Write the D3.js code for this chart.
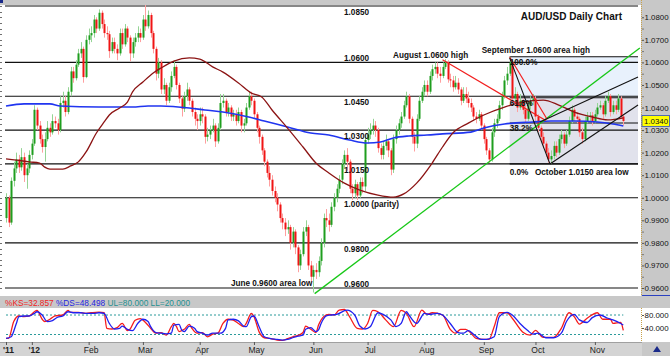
<!DOCTYPE html>
<html><head><meta charset="utf-8">
<script src="https://cdn.jsdelivr.net/npm/d3@7"></script>
<style>html,body{margin:0;padding:0;background:#fff;}svg{display:block;font-family:"Liberation Sans",Arial,sans-serif;}</style>
</head><body><svg id="c" width="670" height="356"></svg>
<script>
// ---------- DATA ----------
const startDate = "2011-12-19";
const firstOpen = 0.991;
const closes = [
1.000,0.989,1.0075,1.013,1.017,1.0135,1.018,1.010,1.013,1.019,
1.024,1.039,1.032,1.026,1.0225,1.026,1.031,1.029,1.034,1.033,
1.030,1.042,1.043,1.038,1.047,1.056,1.053,1.059,1.064,1.066,
1.0535,1.070,1.072,1.073,1.079,1.075,1.082,1.077,1.073,1.0725,
1.065,1.069,1.066,1.064,1.073,1.068,1.075,1.071,1.064,1.069,
1.071,1.073,1.071,1.079,1.076,1.081,1.073,1.066,1.055,1.060,
1.048,1.050,1.043,1.049,1.054,1.058,1.050,1.044,1.0395,1.045,
1.048,1.043,1.038,1.035,1.034,1.037,1.036,1.027,1.028,1.030,
1.032,1.025,1.031,1.042,1.043,1.038,1.040,1.036,1.037,1.034,
1.038,1.032,1.033,1.040,1.045,1.043,1.037,1.031,1.027,1.021,
1.016,1.011,1.008,1.003,1.000,0.997,0.991,0.989,0.986,0.987,
0.980,0.985,0.978,0.970,0.975,0.985,0.987,0.970,0.965,0.968,
0.967,0.972,0.980,0.991,0.990,0.988,0.996,1.000,1.004,1.008,
1.015,1.019,1.016,1.004,1.002,1.006,1.001,1.007,1.005,1.0256,
1.028,1.030,1.032,1.030,1.022,1.019,1.023,1.025,1.021,1.0125,
1.026,1.030,1.033,1.036,1.041,1.045,1.035,1.027,1.024,1.035,
1.043,1.047,1.050,1.047,1.054,1.057,1.058,1.055,1.054,1.058,
1.060,1.0525,1.052,1.049,1.051,1.048,1.043,1.046,1.044,1.042,
1.040,1.036,1.035,1.037,1.032,1.026,1.021,1.017,1.029,1.033,
1.035,1.041,1.045,1.052,1.055,1.060,1.044,1.046,1.040,1.043,
1.039,1.035,1.041,1.043,1.044,1.036,1.031,1.027,1.024,1.020,
1.017,1.0185,1.023,1.020,1.026,1.028,1.024,1.028,1.034,1.039,
1.036,1.035,1.029,1.026,1.034,1.036,1.0365,1.034,1.037,1.040,
1.041,1.037,1.043,1.045,1.038,1.041,1.039,1.044,1.036,1.034];
const highs = [
1.002,1.001,1.009,1.016,1.020,1.019,1.022,1.020,1.015,1.021,
1.026,1.041,1.040,1.034,1.028,1.029,1.034,1.033,1.037,1.036,
1.035,1.045,1.047,1.045,1.049,1.058,1.058,1.061,1.066,1.069,
1.067,1.072,1.075,1.076,1.081,1.080,1.0835,1.083,1.079,1.076,
1.074,1.071,1.071,1.068,1.075,1.075,1.077,1.076,1.072,1.071,
1.073,1.076,1.075,1.081,1.0856,1.083,1.082,1.074,1.067,1.062,
1.061,1.053,1.051,1.051,1.056,1.061,1.059,1.051,1.045,1.047,
1.051,1.049,1.044,1.040,1.037,1.040,1.040,1.037,1.031,1.032,
1.035,1.033,1.033,1.046,1.046,1.044,1.042,1.041,1.039,1.039,
1.040,1.039,1.035,1.042,1.047,1.047,1.044,1.038,1.032,1.028,
1.022,1.017,1.014,1.010,1.005,1.002,0.998,0.993,0.991,0.990,
0.988,0.987,0.986,0.979,0.977,0.987,0.990,0.988,0.972,0.970,
0.971,0.974,0.982,0.993,0.995,0.993,0.998,1.002,1.006,1.010,
1.017,1.021,1.022,1.017,1.006,1.008,1.007,1.009,1.009,1.027,
1.031,1.033,1.035,1.034,1.031,1.024,1.025,1.028,1.026,1.022,
1.028,1.032,1.035,1.038,1.043,1.047,1.046,1.036,1.029,1.037,
1.045,1.049,1.052,1.052,1.056,1.059,1.060,1.060,1.058,1.060,
1.0615,1.061,1.055,1.054,1.054,1.053,1.049,1.049,1.049,1.047,
1.044,1.041,1.038,1.039,1.038,1.033,1.027,1.022,1.031,1.035,
1.037,1.043,1.047,1.054,1.058,1.0625,1.061,1.049,1.047,1.046,
1.044,1.041,1.043,1.045,1.046,1.045,1.037,1.032,1.029,1.025,
1.022,1.021,1.025,1.025,1.028,1.030,1.029,1.030,1.036,1.041,
1.040,1.038,1.036,1.031,1.036,1.038,1.038,1.038,1.039,1.042,
1.043,1.042,1.045,1.047,1.046,1.043,1.043,1.046,1.045,1.037];
const lows = [
0.989,0.987,0.988,1.005,1.011,1.011,1.012,1.007,1.004,1.011,
1.017,1.023,1.030,1.024,1.020,1.016,1.025,1.027,1.028,1.031,
1.028,1.029,1.040,1.036,1.037,1.045,1.051,1.052,1.058,1.062,
1.051,1.053,1.068,1.069,1.071,1.073,1.074,1.075,1.071,1.070,
1.062,1.064,1.064,1.061,1.063,1.066,1.067,1.069,1.0605,1.062,
1.067,1.069,1.069,1.070,1.074,1.075,1.071,1.064,1.052,1.053,
1.046,1.046,1.041,1.042,1.047,1.053,1.048,1.042,1.036,1.038,
1.043,1.041,1.036,1.032,1.030,1.032,1.033,1.024,1.025,1.026,
1.029,1.0225,1.024,1.030,1.040,1.036,1.036,1.034,1.034,1.032,
1.033,1.029,1.029,1.032,1.039,1.041,1.035,1.029,1.024,1.019,
1.014,1.009,1.005,1.001,0.998,0.994,0.989,0.986,0.983,0.984,
0.977,0.978,0.975,0.967,0.968,0.974,0.983,0.968,0.962,0.958,
0.964,0.965,0.970,0.978,0.987,0.985,0.987,0.994,0.998,1.002,
1.006,1.013,1.012,1.002,0.999,1.000,0.999,1.000,1.002,1.003,
1.024,1.026,1.028,1.027,1.020,1.017,1.017,1.021,1.018,1.010,
1.011,1.024,1.028,1.031,1.035,1.040,1.033,1.024,1.0205,1.022,
1.034,1.042,1.045,1.045,1.046,1.052,1.055,1.053,1.051,1.053,
1.057,1.051,1.049,1.047,1.048,1.046,1.041,1.042,1.042,1.040,
1.038,1.034,1.033,1.034,1.030,1.024,1.019,1.0155,1.016,1.027,
1.031,1.034,1.039,1.044,1.050,1.054,1.042,1.042,1.038,1.039,
1.037,1.033,1.034,1.039,1.041,1.034,1.029,1.025,1.022,1.018,
1.0155,1.015,1.017,1.018,1.019,1.024,1.022,1.023,1.027,1.033,
1.034,1.033,1.027,1.024,1.025,1.033,1.034,1.032,1.033,1.036,
1.039,1.035,1.036,1.042,1.036,1.037,1.037,1.038,1.035,1.032];

// 50-day and 200-day moving averages (bar index, value)
const ma50Idx = [0,4,9,13,15,17,22,25,28,31,35,38,40,44,47,49,53,57,60,65,71,75,80,84,90,95,99,103,109,115,120,125,131,137,144,150,154,159,165,169,173,179,185,193,200,208,214,220,227,233,239];
const ma50Val = [1.0172,1.0167,1.0159,1.0154,1.0136,1.0127,1.0127,1.0141,1.0159,1.0203,1.0287,1.0336,1.0367,1.0398,1.0424,1.0469,1.0513,1.0553,1.0575,1.0606,1.0620,1.0615,1.0580,1.0557,1.0509,1.0464,1.0447,1.0389,1.0309,1.0225,1.0154,1.0110,1.0065,1.0034,1.0012,1.0003,1.0017,1.0065,1.0154,1.0225,1.0287,1.0331,1.0367,1.0402,1.0424,1.0433,1.0411,1.0380,1.0358,1.0345,1.0354];
const ma200Idx = [0,7,17,21,36,49,55,60,71,77,84,94,100,109,118,125,133,140,145,150,156,163,169,180,185,193,204,211,220,229,235,239];
const ma200Val = [1.0407,1.0416,1.0416,1.0407,1.0402,1.0402,1.0407,1.0407,1.0398,1.0389,1.0380,1.0358,1.0340,1.0314,1.0287,1.0278,1.0256,1.0243,1.0247,1.0265,1.0274,1.0278,1.0283,1.0291,1.0309,1.0327,1.0336,1.0340,1.0340,1.0336,1.0327,1.0318];

// Slow stochastics (%K red, %D blue)
const kIdx = [0,1,3,5,7,9,11,12,14,15,17,19,22,24,25,28,31,33,36,38,39,41,43,45,47,48,50,52,54,56,58,60,62,64,65,66,67,69,71,72,74,76,78,80,82,84,86,88,90,92,93,95,96,98,100,102,105,107,109,111,113,115,116,118,120,121,123,125,127,129,131,133,136,138,140,142,144,147,150,153,155,158,161,163,165,169,172,174,176,178,180,182,185,187,189,191,194,196,200,203,205,208,212,215,218,220,222,225,229,231,234,235,238,239];
const kVal = [8,8,60,77,75,77,90,94,67,60,67,77,80,94,88,88,85,87,89,87,39,37,41,54,32,36,64,69,57,39,24,26,18,44,54,44,29,36,51,39,24,26,13,21,24,54,67,64,54,44,54,85,75,28,10,8,3,2,7,13,17,26,46,36,26,49,75,82,80,95,97,75,39,37,54,94,90,65,44,94,85,44,95,82,87,80,36,24,36,36,24,8,5,5,44,87,87,70,28,18,33,11,11,39,87,75,52,70,87,67,67,54,57,33];
const dIdx = [0,2,4,5,7,9,11,12,14,16,18,20,22,24,26,29,31,34,36,38,40,42,44,45,47,49,51,53,55,56,58,60,62,64,65,67,68,69,71,73,74,76,78,80,83,85,86,88,90,92,93,95,96,98,100,102,105,107,109,111,113,115,116,118,120,121,122,124,126,128,132,135,137,139,141,144,146,149,151,153,155,156,159,162,164,167,169,172,175,177,179,181,184,186,189,191,194,196,199,202,204,206,209,212,215,217,220,222,225,227,230,233,235,238,239];
const dVal = [8,13,54,75,77,77,85,90,80,60,63,73,77,90,87,87,85,85,87,85,54,37,39,46,36,32,54,67,60,44,26,24,22,24,49,51,34,29,46,39,29,24,18,24,24,39,65,67,62,46,44,75,77,44,13,8,5,3,5,10,15,18,36,41,29,34,54,77,80,82,95,80,46,37,44,87,82,65,44,54,90,80,54,85,82,85,80,54,26,24,32,21,5,5,13,75,88,80,54,32,21,24,10,10,24,60,82,65,57,72,80,70,65,54,49];
const lastK = "32.857", lastD = "48.498", upperLimit = 80, lowerLimit = 20;
const lastPrice = 1.0340;

// Axis ticks
const monthLabels = ["'11","'12","Feb","Mar","Apr","May","Jun","Jul","Aug","Sep","Oct","Nov"];
const priceTicks = [0.96,0.97,0.98,0.99,1.00,1.01,1.02,1.03,1.04,1.05,1.06,1.07,1.08];
const stochTicks = [80,40];

// Annotations
const levels = [1.085,1.06,1.045,1.03,1.015,1.00,0.98,0.96];
const levelLabels = ["1.0850","1.0600","1.0450","1.0300","1.0150","1.0000 (parity)","0.9800","0.9600"];
const labelAbove = [false,true,false,false,false,false,false,true];
const fibStartIdx = 195, fibEndIdx = 244.7, fibHigh = 1.0625, fibLow = 1.015;
const fibRatios = [1, 0.618, 0.382, 0];
const fibLabels = ["100.0%","61.8%","38.2%","0.0%"];
const greenTrend = [[119.5,0.9575],[245.4,1.0664]];
const redTrendAug = [[169,1.0612],[209,1.0342]];
const redTrendSep = [[195,1.0624],[209.5,1.0348]];
const blackSep = [[195,1.062],[210.6,1.015]];
const channelLow = [[210.6,1.015],[244.7,1.0411]];
const channelHigh = [[206.7,1.0336],[244.7,1.0535]];

// ---------- CHART ----------
const svg = d3.select("#c");
const W = 670, H = 356;
const plot = {l:3, r:641, t:5, b:296};
const st = {t:308, b:342};
const n = closes.length;
const FF = "Liberation Sans, Arial, sans-serif";

// trading-day dates
const dates = [];
{ let d = new Date(startDate + "T12:00:00");
  while (dates.length < n) { const wd = d.getDay(); if (wd !== 0 && wd !== 6) dates.push(new Date(d)); d.setDate(d.getDate()+1); } }
const monthIdx = [];
dates.forEach((d,i)=>{ if (i===0 || d.getMonth() !== dates[i-1].getMonth()) monthIdx.push(i); });

const x = d3.scaleLinear().domain([0, n-1]).range([6, 623.3]);
const y = d3.scaleLinear().domain([0.96, 1.085]).range([288, 6]);
const yS = d3.scaleLinear().domain([0, 100]).range([341, 308.5]);

// backgrounds
svg.append("rect").attr("width",W).attr("height",H).attr("fill","#c8c8c8");
svg.append("rect").attr("x",plot.l).attr("y",plot.t).attr("width",plot.r-plot.l).attr("height",plot.b-plot.t).attr("fill","#fff");
svg.append("rect").attr("x",0).attr("y",plot.t).attr("width",plot.l).attr("height",plot.b-plot.t).attr("fill","#fff");
svg.append("rect").attr("x",0).attr("y",st.t).attr("width",642).attr("height",st.b-st.t).attr("fill","#fff");
svg.append("rect").attr("x",642).attr("y",st.t).attr("width",28).attr("height",st.b-st.t).attr("fill","#fff");
svg.append("rect").attr("x",0).attr("y",st.b).attr("width",642).attr("height",H-st.b).attr("fill","#d4d4d4");
svg.append("line").attr("x1",0).attr("x2",642).attr("y1",st.b+0.5).attr("y2",st.b+0.5).attr("stroke","#a0a0a0");
svg.append("rect").attr("x",0).attr("y",0).attr("width",3).attr("height",3).attr("fill","#1a2a8a");
// right panel borders
svg.append("line").attr("x1",641.5).attr("x2",641.5).attr("y1",0).attr("y2",plot.b).attr("stroke","#c9a24a").attr("stroke-dasharray","1,1");
svg.append("line").attr("x1",641.5).attr("x2",641.5).attr("y1",st.t).attr("y2",st.b).attr("stroke","#c9a24a").attr("stroke-dasharray","1,1");
svg.append("line").attr("x1",642).attr("x2",670).attr("y1",plot.b-0.5).attr("y2",plot.b-0.5).attr("stroke","#2a40c0");

// left ruler ticks
const ruler = d3.range(0.96, 1.0851, 0.0025);
svg.append("g").selectAll("line").data(ruler).join("line")
  .attr("x1",0).attr("x2",2).attr("y1",d=>Math.round(y(d))+0.5).attr("y2",d=>Math.round(y(d))+0.5)
  .attr("stroke","#707070").attr("stroke-width",1);

const clipId = "clipMain";
svg.append("clipPath").attr("id",clipId).append("rect").attr("x",plot.l).attr("y",plot.t).attr("width",plot.r-plot.l).attr("height",plot.b-plot.t);
const g = svg.append("g").attr("clip-path",`url(#${clipId})`);

// fib box
const fibY = r => y(fibLow + r*(fibHigh-fibLow));
g.append("rect").attr("x",x(fibStartIdx)).attr("y",fibY(1)).attr("width",x(fibEndIdx)-x(fibStartIdx)).attr("height",fibY(0.618)-fibY(1)).attr("fill","#e8f1fc");
g.append("rect").attr("x",x(fibStartIdx)).attr("y",fibY(0.618)).attr("width",x(fibEndIdx)-x(fibStartIdx)).attr("height",fibY(0)-fibY(0.618)).attr("fill","#e1e2ec");

// horizontal levels
g.append("g").selectAll("line").data(levels).join("line")
  .attr("x1",5).attr("x2",x(fibEndIdx)).attr("y1",d=>y(d)).attr("y2",d=>y(d))
  .attr("stroke","#111").attr("stroke-width",1.2);
g.append("g").selectAll("line").data(fibRatios).join("line")
  .attr("x1",x(fibStartIdx)).attr("x2",x(fibEndIdx)).attr("y1",d=>fibY(d)).attr("y2",d=>fibY(d))
  .attr("stroke","#111").attr("stroke-width",1.1);

// candles
const candles = closes.map((c,i)=>({i, o: i===0 ? firstOpen : closes[i-1], c, h: highs[i], l: lows[i]}));
const cg = g.append("g");
candles.forEach(d=>{
  const up = d.c >= d.o;
  const cx = Math.round(x(d.i));
  cg.append("line").attr("x1",cx+0.5).attr("x2",cx+0.5).attr("y1",y(d.h)).attr("y2",y(d.l))
    .attr("stroke", up ? "#94d494" : "#ff9f9f").attr("stroke-width",1);
  const top = y(Math.max(d.o,d.c)), bot = y(Math.min(d.o,d.c));
  cg.append("rect").attr("x",cx-0.5).attr("width",2).attr("y",top).attr("height",Math.max(1,bot-top))
    .attr("fill", up ? "#1f9e1f" : "#f01414");
});

// moving averages
const lineGen = d3.line().x(d=>x(d[0])).y(d=>y(d[1])).curve(d3.curveMonotoneX);
g.append("path").attr("d", lineGen(ma200Idx.map((v,k)=>[v, ma200Val[k]]))).attr("fill","none").attr("stroke","#2035f0").attr("stroke-width",1.6);
g.append("path").attr("d", lineGen(ma50Idx.map((v,k)=>[v, ma50Val[k]]))).attr("fill","none").attr("stroke","#8c1414").attr("stroke-width",1.3);

// trend lines
const seg = (pts, col, w) => g.append("line").attr("x1",x(pts[0][0])).attr("y1",y(pts[0][1])).attr("x2",x(pts[1][0])).attr("y2",y(pts[1][1])).attr("stroke",col).attr("stroke-width",w);
seg(greenTrend, "#17c817", 1.3);
seg(redTrendAug, "#f22020", 1.2);
seg(redTrendSep, "#f22020", 1.2);
seg(blackSep, "#111", 1.1);
seg(channelLow, "#111", 1.1);
seg(channelHigh, "#111", 1.1);

// texts
const tb = svg.append("g").attr("font-weight","bold").attr("font-size","8.2px").attr("fill","#111");
levels.forEach((v,k)=>{
  tb.append("text").attr("x",344).attr("y", labelAbove[k] ? y(v)-1.5 : y(v)+9).text(levelLabels[k]);
});
fibRatios.forEach((r,k)=>{
  tb.append("text").attr("x",x(fibStartIdx)).attr("y", r===0 ? fibY(r)+11.5 : fibY(r)+8.5).text(fibLabels[k]);
});
tb.append("text").attr("x",x(170)-52).attr("y",y(1.0615)-1.5).text("August 1.0600 high");
tb.append("text").attr("x",x(195)-28).attr("y",y(1.0625)-4).text("September 1.0600 area high");
tb.append("text").attr("x",x(119)-1).attr("y",y(0.96)-2).attr("text-anchor","end").text("June 0.9600 area low");
tb.append("text").attr("x",x(210.6)-15).attr("y",y(1.015)+11.5).text("October 1.0150 area low");
svg.append("text").attr("x",622).attr("y",20).attr("text-anchor","end").attr("font-weight","bold").attr("font-size","10px").attr("fill","#111").text("AUD/USD Daily Chart");

// right price axis
const ra = svg.append("g").attr("transform","translate(642,0)")
  .call(d3.axisRight(y).tickValues(priceTicks).tickFormat(d3.format(".4f")).tickSize(2).tickPadding(0.5));
ra.select(".domain").remove();
ra.selectAll("text").attr("font-size","7.9px").attr("fill","#111").attr("font-family",FF);
ra.selectAll("line").attr("stroke","#555");
const raMinor = svg.append("g").attr("transform","translate(642,0)")
  .call(d3.axisRight(y).tickValues(priceTicks.map(v=>v+0.005).filter(v=>v<1.085)).tickFormat("").tickSize(2));
raMinor.select(".domain").remove();
raMinor.selectAll("line").attr("stroke","#777");
// last price tag
svg.append("rect").attr("x",642).attr("y",y(lastPrice)-5.5).attr("width",27.5).attr("height",11).attr("fill","#ffff00").attr("stroke","#3050c0").attr("stroke-width",0.8);
svg.append("text").attr("x",644).attr("y",y(lastPrice)+3).attr("font-size","7.9px").attr("fill","#111").text(d3.format(".4f")(lastPrice));

// stochastic header
const hdr = svg.append("text").attr("x",5).attr("y",305.5).attr("font-size","8.3px");
hdr.append("tspan").attr("fill","#f01c1c").text(`%KS=${lastK} `);
hdr.append("tspan").attr("fill","#2424e0").text(`%DS=${lastD} `);
hdr.append("tspan").attr("fill","#1f9090").text(`UL=${d3.format(".3f")(upperLimit)} LL=${d3.format(".3f")(lowerLimit)}`);

// stochastic panel
const sg = svg.append("g");
[upperLimit, lowerLimit].forEach(v=>{
  sg.append("line").attr("x1",x(0)).attr("x2",x(n-1)).attr("y1",yS(v)).attr("y2",yS(v))
    .attr("stroke","#2a9a9a").attr("stroke-width",1).attr("stroke-dasharray","2,2");
});
const sLine = d3.line().x(d=>x(d[0])).y(d=>yS(d[1])).curve(d3.curveMonotoneX);
sg.append("path").attr("d", sLine(kIdx.map((v,k)=>[v,kVal[k]]))).attr("fill","none").attr("stroke","#f51c1c").attr("stroke-width",1.3);
sg.append("path").attr("d", sLine(dIdx.map((v,k)=>[v,dVal[k]]))).attr("fill","none").attr("stroke","#2020f0").attr("stroke-width",1.3);
const sa = svg.append("g").attr("transform","translate(642,0)")
  .call(d3.axisRight(yS).tickValues(stochTicks).tickFormat(d3.format(".3f")).tickSize(2).tickPadding(0.5));
sa.select(".domain").remove();
sa.selectAll("text").attr("font-size","7.9px").attr("fill","#111").attr("font-family",FF);
sa.selectAll("line").attr("stroke","#555");

// bottom time axis
const xa = svg.append("g").attr("transform",`translate(0,${st.b})`)
  .call(d3.axisBottom(x).tickValues(monthIdx).tickFormat((d,k)=>monthLabels[k]).tickSize(3).tickPadding(1.5));
xa.select(".domain").remove();
xa.selectAll("line").attr("stroke","#555");
xa.selectAll("text").attr("font-size","8.5px").attr("fill","#222").attr("font-family",FF)
  .attr("font-weight",(d,k)=>monthLabels[k].startsWith("'") ? "bold" : "normal")
  .attr("dx","2");
// corner icon
svg.append("path").attr("d","M653,352 L657,346 L661,352 Z").attr("fill","#1a2a8a");
</script></body></html>
